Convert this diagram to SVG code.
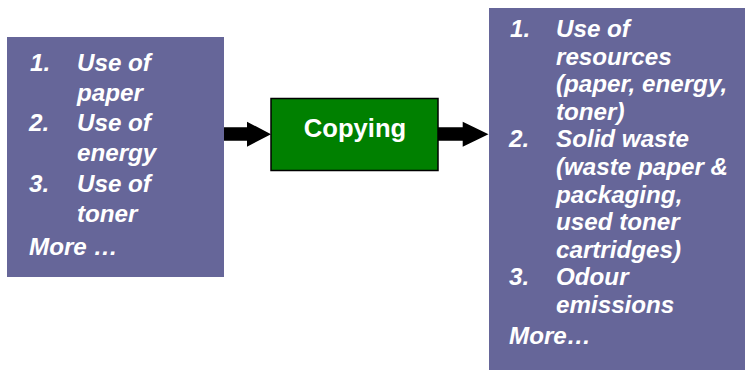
<svg xmlns="http://www.w3.org/2000/svg" width="745" height="370" viewBox="0 0 745 370">
<style>
.box{fill:#666699;}
.t{font-family:"Liberation Sans",Arial,sans-serif;font-weight:bold;font-style:italic;font-size:24.2px;fill:#ffffff;}
.c{font-family:"Liberation Sans",Arial,sans-serif;font-weight:bold;font-size:25.6px;fill:#ffffff;}
.arrow{fill:#000000;}
</style>
<rect width="745" height="370" fill="#ffffff"/>
<g id="inputs">
<rect class="box" x="7" y="37" width="217" height="240"/>
<text class="t" x="30" y="71">1.</text><text class="t" x="77" y="71">Use of</text>
<text class="t" x="77" y="101">paper</text>
<text class="t" x="29" y="131">2.</text><text class="t" x="77" y="131">Use of</text>
<text class="t" x="77" y="161">energy</text>
<text class="t" x="29" y="191.5">3.</text><text class="t" x="77" y="191.5">Use of</text>
<text class="t" x="77" y="221.5">toner</text>
<text class="t" x="29" y="255">More …</text>
</g>
<g id="process">
<rect x="271" y="98.5" width="167" height="72" fill="#008000" stroke="#000000" stroke-width="1.5"/>
<text class="c" x="355" y="137" text-anchor="middle">Copying</text>
</g>
<g id="outputs">
<rect class="box" x="489" y="8" width="256" height="362"/>
<text class="t" x="510" y="37">1.</text><text class="t" x="556" y="37">Use of</text>
<text class="t" x="556" y="64.6">resources</text>
<text class="t" x="556" y="92.2">(paper, energy,</text>
<text class="t" x="556" y="119.8">toner)</text>
<text class="t" x="509" y="147.4">2.</text><text class="t" x="556" y="147.4">Solid waste</text>
<text class="t" x="556" y="175">(waste paper &amp;</text>
<text class="t" x="556" y="202.6">packaging,</text>
<text class="t" x="556" y="230.2">used toner</text>
<text class="t" x="556" y="257.8">cartridges)</text>
<text class="t" x="509" y="285.4">3.</text><text class="t" x="556" y="285.4">Odour</text>
<text class="t" x="556" y="313">emissions</text>
<text class="t" x="509" y="344">More…</text>
</g>
<g id="connectors">
<polygon class="arrow" points="224,127.3 247,127.3 247,121.7 271,134.2 247,146.7 247,140.7 224,140.7"/>
<polygon class="arrow" points="438,127.3 462.7,127.3 462.7,121.7 488.5,134.2 462.7,146.7 462.7,140.7 438,140.7"/>
</g>
</svg>
